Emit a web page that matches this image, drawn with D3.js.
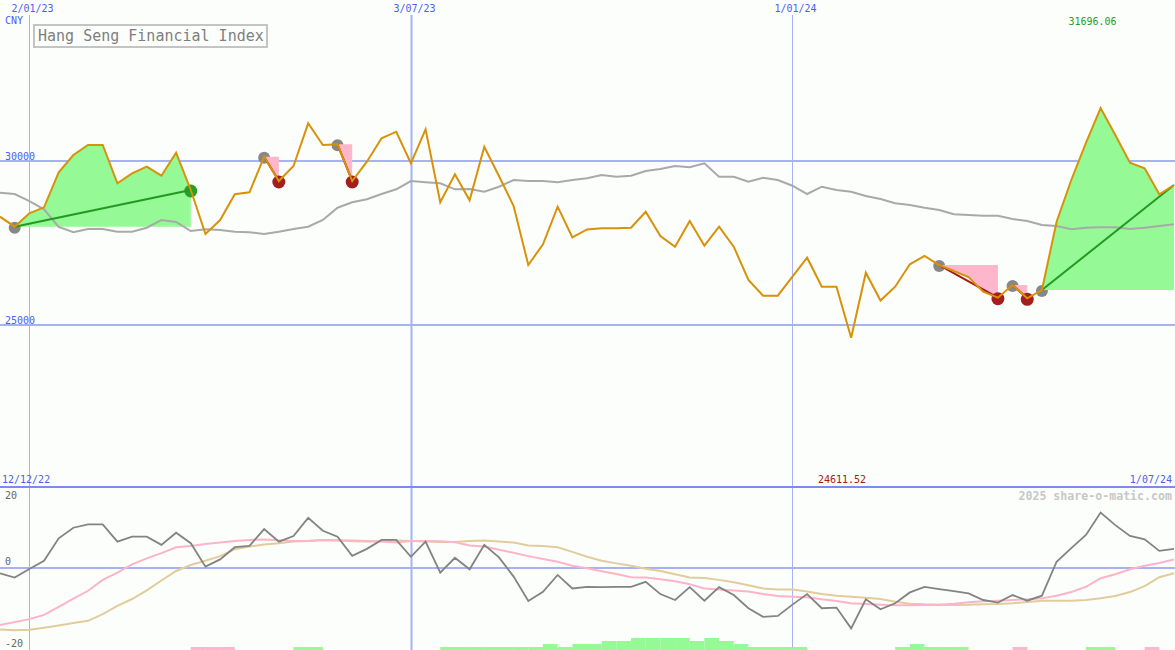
<!DOCTYPE html>
<html><head><meta charset="utf-8">
<script src="https://cdn.jsdelivr.net/npm/d3@7"></script>
<style>
html,body{margin:0;padding:0;background:#fbfefb;}
svg{display:block;}
text{font-family:"DejaVu Sans Mono","Liberation Mono",monospace;}
</style></head>
<body><svg id="c" width="1175" height="650"></svg>
<script>
// ---- data (weekly, first week 19 Dec 2022) ----
const closeVals = [28302,27997,28405,28588,29655,30183,30488,30488,29320,29625,
29826,29552,30253,29116,27774,28201,28985,29046,30131,29390,
29848,31149,30488,30509,29390,29979,30692,30893,29930,30966,
28741,29595,28802,30436,29543,28628,26829,27460,28607,27674,
27912,27948,27948,27966,28454,27713,27387,28171,27418,27997,
27387,26372,25893,25893,26473,27052,26168,26168,24613,26595,
25747,26168,26851,27104,26829,26646,26463,26015,25832,26220,
25814,26067,28149,29421,30549,31616,30793,29948,29777,28985,29268];
const maVals = [29034,28994,28780,28527,27988,27826,27927,27927,27844,27844,
27966,28201,28140,27866,27918,27896,27844,27826,27774,27844,
27927,27997,28201,28576,28741,28832,28994,29137,29390,29351,
29320,29137,29146,29064,29216,29421,29390,29390,29351,29421,
29473,29573,29521,29552,29695,29756,29848,29808,29930,29521,
29521,29369,29491,29421,29247,28994,29216,29116,29064,28933,
28841,28710,28659,28576,28506,28375,28354,28332,28332,28232,
28171,28049,28018,27918,27966,27979,27979,27927,27966,28018,28070];
const momentumVals = [-1.6,-2.9,-0.3,2.2,9.0,12.2,13.2,13.2,8.0,9.5,
9.5,7.0,10.7,7.5,0.4,2.6,6.3,6.7,11.8,8.0,
9.7,15.2,11.3,9.5,3.7,5.8,8.5,8.5,3.4,8.0,
-1.4,3.1,-0.4,7.0,3.2,-2.6,-10.0,-7.2,-2.1,-6.2,
-5.7,-5.8,-5.7,-5.7,-4.2,-7.9,-9.7,-5.8,-9.9,-5.8,
-8.2,-12.2,-14.8,-14.5,-11.1,-7.9,-12.2,-12.0,-18.3,-9.5,
-12.5,-10.7,-7.4,-5.7,-6.4,-7.0,-7.7,-9.7,-10.5,-8.2,
-9.9,-8.4,1.9,6.0,10.0,16.8,13.0,9.7,8.7,5.2,5.8];
const signalFast = [-17.3,-16.4,-15.5,-14.2,-11.8,-9.3,-6.9,-3.6,-1.4,1.1,
2.9,4.5,6.3,6.7,7.3,7.7,8.2,8.5,8.6,8.4,
8.2,8.2,8.5,8.3,8.3,8.2,8.0,7.7,8.2,8.2,
8.1,7.8,6.8,6.5,5.5,4.6,3.6,2.7,1.9,0.7,
-0.1,-1.0,-1.8,-2.8,-2.9,-3.4,-4.0,-4.9,-6.2,-6.5,
-6.8,-7.1,-7.9,-8.5,-8.7,-8.9,-9.5,-10.0,-10.7,-10.9,
-11.1,-11.3,-11.3,-11.2,-11.1,-10.8,-10.4,-10.1,-9.9,-9.7,
-9.5,-9.2,-8.4,-7.3,-5.7,-3.1,-1.9,-0.4,0.7,1.5,2.6];
const signalSlow = [-18.6,-18.9,-18.7,-18.1,-17.4,-16.7,-16.0,-14.0,-11.5,-9.4,
-6.8,-3.8,-0.9,0.9,2.2,3.6,5.7,6.5,7.1,7.5,
8.0,8.2,8.5,8.4,8.1,8.0,8.1,8.3,8.2,8.0,
7.9,7.9,8.2,8.3,8.0,7.7,6.8,6.7,6.3,4.9,
3.4,2.2,1.4,0.7,-0.2,-0.9,-1.9,-2.9,-3.0,-3.6,
-4.3,-5.2,-6.2,-6.5,-6.5,-7.1,-7.9,-8.4,-8.7,-9.0,
-9.4,-10.2,-10.8,-11.0,-11.1,-11.2,-11.1,-11.0,-10.9,-10.7,
-10.3,-9.9,-9.9,-9.9,-9.7,-9.2,-8.5,-7.3,-5.5,-2.8,-1.6];
const histVals = [0,0,0,0,0,0,0,0,0,0,
0,0,0,-1,-1,-1,0,0,0,0,
1,1,0,0,0,0,0,0,0,0,
1,1,1,1,1,1,1,2,1,2,
2,3,3,4,4,4,4,3,4,3,
2,1,1,1,1,0,0,0,0,0,
0,1,2,1,1,1,0,0,0,-1,
0,0,0,0,1,1,0,0,-1,0,0];
const upSwings = [{s:1,e:13,done:true},{s:71,e:80,done:false}];
const downSwings = [{s:18,e:19},{s:23,e:24},{s:64,e:68},{s:69,e:70}];
const priceTicks = [30000,25000];
const oscTicks = [20,0,-20];
const dateTicks = ["2023-01-02","2023-07-03","2024-01-01"];
const dateTickLabels = ["2/01/23","3/07/23","1/01/24"];
const rangeLabels = ["12/12/22","1/07/24"];
const title = "Hang Seng Financial Index";
const currency = "CNY";
const periodHigh = 31696.06, periodLow = 24611.52;
const credit = "2025 share-o-matic.com";

// ---- layout ----
const W = 1175, H = 650;
const dates = d3.timeMonday.range(new Date(2022,11,19), new Date(2024,6,2));
const x = d3.scaleTime().domain([new Date(2022,11,12), new Date(2024,6,1)]).range([-14.67, 1174]);
const y = d3.scaleLinear().domain([25000,30000]).range([325,161]);
const yo = d3.scaleLinear().domain([0,20]).range([568,502]);
const yh = d3.scaleLinear().domain([0,4]).range([650,638]);
const parse = d3.timeParse("%Y-%m-%d");

const svg = d3.select("#c");
svg.append("rect").attr("width",W).attr("height",H).attr("fill","#fbfefb");
const defs = svg.append("defs");
defs.append("clipPath").attr("id","cm").append("rect").attr("x",0).attr("y",14).attr("width",W).attr("height",473);
defs.append("clipPath").attr("id","cb").append("rect").attr("x",0).attr("y",489).attr("width",W).attr("height",161);

const gridC = "#a6b2f4", sepC = "#7b8bef", blueT = "#4f5cf5";

// ---- grids ----
const g = svg.append("g");
priceTicks.forEach(v=>{
  g.append("line").attr("x1",0).attr("x2",W).attr("y1",y(v)).attr("y2",y(v)).attr("stroke",gridC).attr("stroke-width",2);
  g.append("text").attr("x",5).attr("y",y(v)-1).attr("font-size",10).attr("fill",blueT).text(v);
});
g.append("line").attr("x1",0).attr("x2",W).attr("y1",yo(0)).attr("y2",yo(0)).attr("stroke",gridC).attr("stroke-width",2);
dateTicks.forEach((d,i)=>{
  const xv = Math.round(x(parse(d)))+0.5;
  const sw = d.endsWith("07-03") ? 2 : 1;
  g.append("line").attr("x1",xv).attr("x2",xv).attr("y1",15).attr("y2",H).attr("stroke",gridC).attr("stroke-width",sw);
  g.append("text").attr("x",xv+3).attr("y",12).attr("text-anchor","middle").attr("font-size",10).attr("fill",blueT).text(dateTickLabels[i]);
});
g.append("line").attr("x1",0).attr("x2",W).attr("y1",487).attr("y2",487).attr("stroke",sepC).attr("stroke-width",2);

// ---- main panel ----
const main = svg.append("g").attr("clip-path","url(#cm)");
const px = i=>x(dates[i]);
const idx = d3.range(dates.length);

// swing start dots (under fills)
const startDots = upSwings.map(s=>s.s).concat(downSwings.map(s=>s.s));
main.selectAll(".sd").data(startDots).join("circle").attr("cx",i=>px(i)).attr("cy",i=>y(closeVals[i])+1).attr("r",6).attr("fill","#878787");

upSwings.forEach(s=>{
  const r = d3.range(s.s, s.e+1);
  main.append("path").attr("d", d3.area().x(i=>px(i)).y0(y(closeVals[s.s])).y1(i=>y(closeVals[i]))(r)).attr("fill","#95f995");
});
downSwings.forEach(s=>{
  const r = d3.range(s.s, s.e+1);
  main.append("path").attr("d", d3.area().x(i=>px(i)).y0(y(closeVals[s.s])).y1(i=>y(closeVals[i]))(r)).attr("fill","#fdb6cb");
});

const line = d3.line().x(i=>px(i));
main.append("path").attr("d", line.y(i=>y(maVals[i]))(idx)).attr("fill","none").attr("stroke","#a9a9a9").attr("stroke-width",2);

// end dots
downSwings.forEach(s=>{
  main.append("circle").attr("cx",px(s.e)).attr("cy",y(closeVals[s.e])+1).attr("r",6.5).attr("fill","#a51e1e");
});
upSwings.filter(s=>s.done).forEach(s=>{
  main.append("circle").attr("cx",px(s.e)).attr("cy",y(closeVals[s.e])+1).attr("r",6.5).attr("fill","#26a026");
});
// trend lines
upSwings.forEach(s=>{
  main.append("line").attr("x1",px(s.s)).attr("y1",y(closeVals[s.s])).attr("x2",px(s.e)).attr("y2",y(closeVals[s.e])).attr("stroke","#229a22").attr("stroke-width",2);
});
downSwings.forEach(s=>{
  main.append("line").attr("x1",px(s.s)).attr("y1",y(closeVals[s.s])).attr("x2",px(s.e)).attr("y2",y(closeVals[s.e])).attr("stroke","#a01c1c").attr("stroke-width",2);
});
main.append("path").attr("d", d3.line().x(i=>px(i)).y(i=>y(closeVals[i]))(idx)).attr("fill","none").attr("stroke","#d8920a").attr("stroke-width",2).attr("stroke-linejoin","miter");

// ---- bottom panel ----
const bot = svg.append("g").attr("clip-path","url(#cb)");
bot.selectAll(".h").data(idx.filter(i=>histVals[i]!==0 && i<dates.length-1)).join("rect")
  .attr("x",i=>px(i)).attr("width",i=>px(i+1)-px(i))
  .attr("y",i=>yh(Math.abs(histVals[i]))).attr("height",i=>yh(0)-yh(Math.abs(histVals[i])))
  .attr("fill",i=>histVals[i]>0?"#95f995":"#fdb6cb");
bot.append("path").attr("d", d3.line().x(i=>px(i)).y(i=>yo(signalSlow[i]))(idx)).attr("fill","none").attr("stroke","#e2cc9c").attr("stroke-width",2);
bot.append("path").attr("d", d3.line().x(i=>px(i)).y(i=>yo(signalFast[i]))(idx)).attr("fill","none").attr("stroke","#fdb4c8").attr("stroke-width",2);
bot.append("path").attr("d", d3.line().x(i=>px(i)).y(i=>yo(momentumVals[i]))(idx)).attr("fill","none").attr("stroke","#838383").attr("stroke-width",1.8);

oscTicks.forEach(v=>{
  svg.append("text").attr("x",5).attr("y",v<0 ? H-3 : yo(v)-3).attr("font-size",10).attr("fill","#666").text(v);
});

// ---- labels ----
svg.append("text").attr("x",5).attr("y",24).attr("font-size",10).attr("fill",blueT).text(currency);
svg.append("rect").attr("x",34).attr("y",25).attr("width",233).attr("height",22).attr("fill","#fbfefb").attr("stroke","#c4c4c4").attr("stroke-width",2);
svg.append("text").attr("x",38).attr("y",41).attr("font-size",15).attr("fill","#7f7f7f").text(title);
svg.append("text").attr("x",2).attr("y",483).attr("font-size",10).attr("fill",blueT).text(rangeLabels[0]);
svg.append("text").attr("x",1172).attr("y",483).attr("text-anchor","end").attr("font-size",10).attr("fill",blueT).text(rangeLabels[1]);
const iMax = d3.maxIndex(closeVals), iMin = d3.minIndex(closeVals);
svg.append("text").attr("x",px(iMax)+16).attr("y",25).attr("text-anchor","end").attr("font-size",10).attr("fill","#22a022").text(periodHigh.toFixed(2));
svg.append("text").attr("x",px(iMin)+15).attr("y",483).attr("text-anchor","end").attr("font-size",10).attr("fill","#a51818").text(periodLow.toFixed(2));
svg.append("text").attr("x",1172).attr("y",500).attr("text-anchor","end").attr("font-size",11.6).attr("font-weight","bold").attr("fill","#c8c8c8").text(credit);
</script></body></html>
